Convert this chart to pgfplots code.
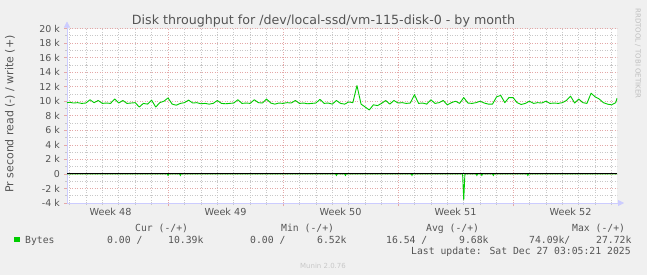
\documentclass[border=0pt]{standalone}
\usepackage{pgfplots}
\pgfplotsset{compat=1.18}
\usepackage{fontspec}
\setmainfont{DejaVu Sans}
\newfontfamily\mono{DejaVu Sans Mono}
\usetikzlibrary{arrows.meta}
\definecolor{bgc}{RGB}{240,240,240}
\definecolor{majg}{RGB}{228,168,168}
\definecolor{ming}{RGB}{200,200,200}
\definecolor{axc}{RGB}{204,204,255}
\definecolor{txt}{RGB}{85,85,85}
\definecolor{munin}{RGB}{0,204,0}
\begin{document}
\begin{tikzpicture}[x=1bp,y=1bp]
\fill[bgc] (0,0) rectangle (647,275);
\begin{axis}[
  at={(67bp,72bp)}, anchor=south west,
  scale only axis, width=550bp, height=174.5bp,
  xmin=0.85, xmax=34.33, ymin=-4, ymax=20,
  axis background/.style={fill=white},
  axis lines=left,
  axis line style={axc, line width=0.8bp, shorten >=-7bp, -{Triangle[width=6bp,length=6bp]}},
  xtick={7,14,21,28}, xticklabels={},
  minor xtick={1,...,34},
  ytick={-4,-2,...,20},
  yticklabels={-4 k,-2 k,0,2 k,4 k,6 k,8 k,10 k,12 k,14 k,16 k,18 k,20 k},
  minor ytick={-3,-1,...,19},
  grid=both,
  major grid style={majg, line width=0.6bp, dash pattern=on 1bp off 1.5bp},
  minor grid style={ming, line width=0.6bp, dash pattern=on 1bp off 1.5bp},
  major tick length=3bp, minor tick length=2bp, tick align=outside,
  every tick/.style={ming, line width=0.6bp},
  every major tick/.style={majg, line width=0.6bp},
  yticklabel style={font=\fontsize{9.5}{11}\selectfont, text=txt, inner sep=0pt, xshift=-4bp},
  extra x ticks={3.5,10.5,17.5,24.5,31.5},
  extra x tick labels={Week 48,Week 49,Week 50,Week 51,Week 52},
  extra x tick style={major tick length=0pt, grid=none, xticklabel style={font=\fontsize{9.7}{11}\selectfont, text=txt, inner sep=0pt, yshift=-5bp}},
  clip=false,
]
\addplot[munin, line width=0.9bp, line join=round] coordinates {
(0.85,9.8)(1.00,9.85)(1.25,9.75)(1.50,9.8)(1.75,9.7)(2.00,9.75)(2.25,10.2)(2.50,9.8)(2.75,10.1)
(3.00,9.7)(3.25,9.75)(3.50,9.7)(3.75,10.3)(4.00,9.75)(4.25,10.1)(4.50,9.7)(4.75,9.75)
(5.00,9.8)(5.25,9.2)(5.50,9.7)(5.75,9.6)(6.00,10.15)(6.25,9.2)(6.50,9.8)(6.75,10.0)
(7.00,10.45)(7.25,9.6)(7.50,9.45)(7.75,9.7)(8.00,9.8)(8.25,10.15)(8.50,9.75)(8.75,9.8)
(9.00,9.65)(9.25,9.7)(9.50,9.6)(9.75,9.7)(10.00,10.1)(10.25,9.7)(10.50,9.65)(10.75,9.7)
(11.00,9.75)(11.25,10.2)(11.50,9.7)(11.75,9.75)(12.00,9.7)(12.25,10.2)(12.50,9.8)(12.75,9.75)
(13.00,10.3)(13.25,9.75)(13.50,9.6)(13.75,9.75)(14.00,9.7)(14.25,9.8)(14.50,9.75)(14.75,10.1)
(15.00,9.7)(15.25,9.75)(15.50,9.65)(15.75,9.7)(16.00,9.75)(16.25,10.25)(16.50,9.7)(16.75,9.75)
(17.00,9.6)(17.25,10.1)(17.50,9.7)(17.75,9.6)(18.00,9.9)(18.25,9.8)(18.50,12.15)(18.75,9.6)
(19.00,9.2)(19.25,8.8)(19.50,9.5)(19.75,9.4)(20.00,9.7)(20.25,10.1)(20.50,9.6)(20.75,10.1)
(21.00,9.75)(21.25,9.8)(21.50,9.7)(21.75,9.75)(22.00,10.9)(22.25,9.7)(22.50,9.75)(22.75,9.6)
(23.00,10.2)(23.25,9.7)(23.50,9.8)(23.75,10.1)(24.00,9.5)(24.25,9.8)(24.50,10.0)(24.75,9.7)
(25.00,10.5)(25.25,9.75)(25.50,9.7)(25.75,9.8)(26.00,10.0)(26.25,9.75)(26.50,9.6)(26.75,9.6)
(27.00,10.6)(27.25,10.8)(27.50,9.8)(27.75,10.5)(28.00,10.5)(28.25,9.8)(28.50,9.55)(28.75,9.7)
(29.00,10.0)(29.25,9.7)(29.50,9.8)(29.75,9.75)(30.00,10.0)(30.25,9.7)(30.50,9.75)(30.75,9.7)
(31.00,9.8)(31.25,10.1)(31.50,10.7)(31.75,9.75)(32.00,10.3)(32.25,9.8)(32.50,9.7)(32.75,11.1)
(33.00,10.6)(33.25,10.3)(33.50,9.8)(33.75,9.6)(34.00,9.5)(34.25,9.8)(34.33,10.4)
};
\addplot[munin, line width=0.9bp] coordinates {
(0.85,0)(6.95,0)(7.0,-0.2)(7.05,0)(7.7,0)(7.75,-0.2)(7.8,0)(17.2,0)(17.25,-0.2)(17.3,0)
(17.75,0)(17.8,-0.2)(17.85,0)(21.8,0)(21.85,-0.2)(21.9,0)(24.93,0)(25.0,-3.6)(25.07,0)
(25.75,0)(25.8,-0.2)(25.85,0)(26.05,0)(26.1,-0.2)(26.15,0)(26.75,0)(26.8,-0.2)(26.85,0)
(28.85,0)(28.9,-0.2)(28.95,0)(34.33,0)
};
\addplot[black, line width=0.9bp] coordinates {(0.85,0)(34.33,0)};
\end{axis}
% title and labels
\node[anchor=base, inner sep=0pt, text=txt, font=\fontsize{12.7}{14}\selectfont] at (323.5,251) {Disk throughput for /dev/local-ssd/vm-115-disk-0 - by month};
\node[rotate=90, inner sep=0pt, text=txt, font=\fontsize{11}{13}\selectfont] at (10,161) {Pr second read (-) / write (+)};
\node[rotate=-90, inner sep=0pt, text={rgb,255:red,190;green,190;blue,190}, font=\fontsize{7}{8}\selectfont] at (638,221.5) {RRDTOOL / TOBI OETIKER};
\node[anchor=base, inner sep=0pt, text={rgb,255:red,200;green,200;blue,200}, font=\fontsize{7}{8}\selectfont] at (323,7) {Munin 2.0.76};
% legend
\begin{scope}[every node/.style={anchor=base west, inner sep=0pt, text=txt, font=\mono\fontsize{9.8}{11}\selectfont}]
\node at (135,44) {Cur (-/+)};
\node at (281,44) {Min (-/+)};
\node at (426,44) {Avg (-/+)};
\node at (572,44) {Max (-/+)};
\node at (25,31.7) {Bytes};
\node at (107,31.7) {0.00 /};
\node at (168,31.7) {10.39k};
\node at (250,31.7) {0.00 /};
\node at (317,31.7) {6.52k};
\node at (386,31.7) {16.54 /};
\node at (459,31.7) {9.68k};
\node at (529,31.7) {74.09k/};
\node at (596,31.7) {27.72k};
\node at (411,20.7) {Last update: Sat Dec 27 03:05:21 2025};
\end{scope}
\fill[munin] (14,33) rectangle (19.5,38.5);
\end{tikzpicture}
\end{document}
